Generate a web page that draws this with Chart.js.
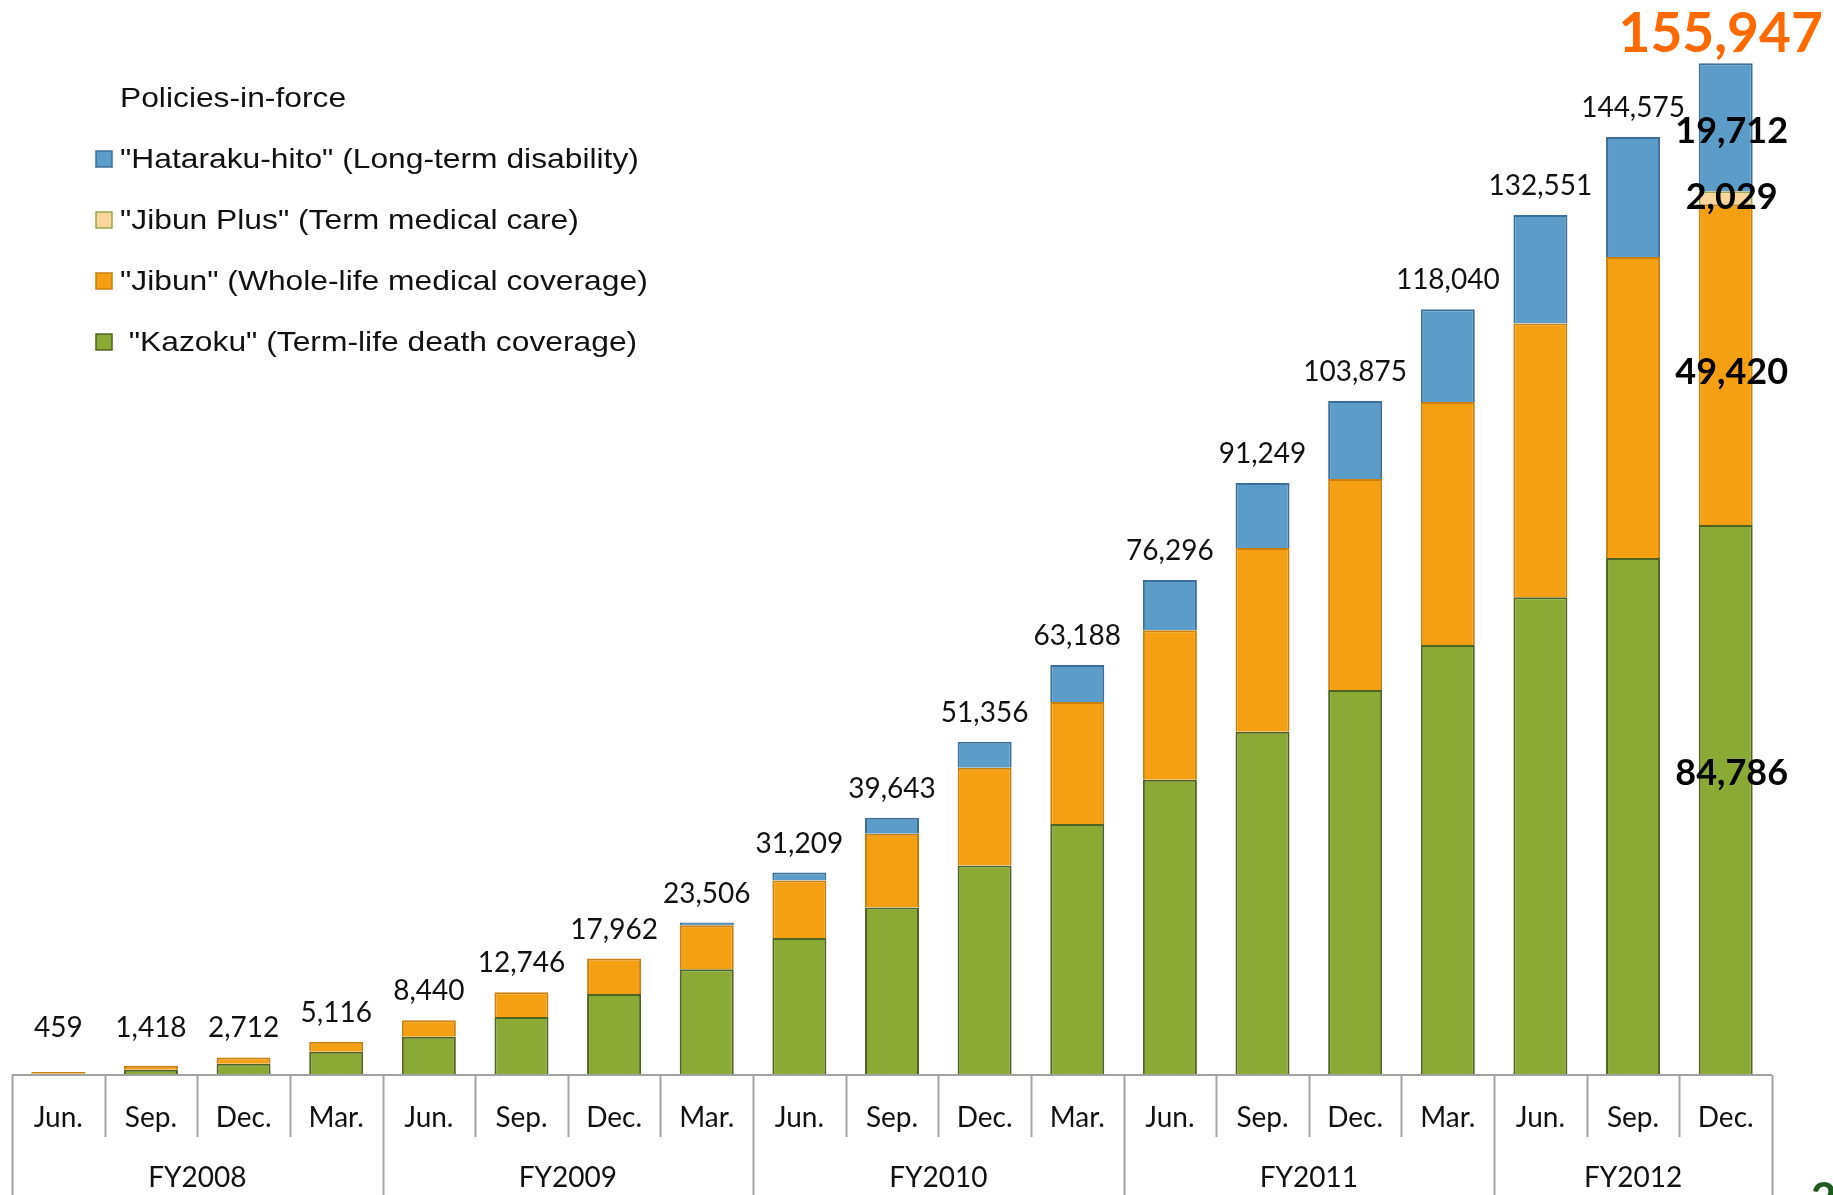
<!DOCTYPE html>
<html>
<head>
<meta charset="utf-8">
<script src="https://cdn.jsdelivr.net/npm/chart.js@4.4.0/dist/chart.umd.min.js"></script>
<style>
  html, body { margin: 0; padding: 0; background: #fff; }
  #wrap { width: 1833px; height: 1195px; }
</style>
</head>
<body>
<div id="wrap"><canvas id="policyChart" width="1833" height="1195"></canvas></div>
<script>
// categories
const months = ['Jun.', 'Sep.', 'Dec.', 'Mar.', 'Jun.', 'Sep.', 'Dec.', 'Mar.', 'Jun.', 'Sep.',
  'Dec.', 'Mar.', 'Jun.', 'Sep.', 'Dec.', 'Mar.', 'Jun.', 'Sep.', 'Dec.'];
const fiscalYears = ['FY2008', 'FY2009', 'FY2010', 'FY2011', 'FY2012'];
const monthsPerYear = [4, 4, 4, 4, 3];

// series (policies in force)
const kazoku = [180, 820, 1750, 3600, 5900, 8940, 12480, 16300, 21100, 25800,
  32300, 38700, 45500, 52900, 59330, 66300, 73630, 79700, 84786];
const jibun = [279, 598, 962, 1516, 2540, 3806, 5482, 6800, 8900, 11400,
  15050, 18780, 23070, 28330, 32530, 37440, 42210, 46370, 49420];
const jibunPlus = [null, null, null, null, null, null, null, null, null, null,
  null, null, null, null, null, null, null, null, 2029];
const hataraku = [null, null, null, null, null, null, null, 406, 1209, 2443,
  4006, 5708, 7726, 10019, 12015, 14300, 16711, 18505, 19712];
const totals = [459, 1418, 2712, 5116, 8440, 12746, 17962, 23506, 31209, 39643,
  51356, 63188, 76296, 91249, 103875, 118040, 132551, 144575, 155947];

const legendTitle = 'Policies-in-force';
const fmt = (v) => v.toLocaleString('en-US');

const datasets = [
  { label: ' "Kazoku" (Term-life death coverage)', data: kazoku,
    backgroundColor: '#8AAA35', borderColor: '#4F6322' },
  { label: '"Jibun" (Whole-life medical coverage)', data: jibun,
    backgroundColor: '#F59F12', borderColor: '#C9800F' },
  { label: '"Jibun Plus" (Term medical care)', data: jibunPlus,
    backgroundColor: '#FAD69C', borderColor: '#98A64E' },
  { label: '"Hataraku-hito" (Long-term disability)', data: hataraku,
    backgroundColor: '#5B9CC8', borderColor: '#3C6F99' },
].map((d) => ({ ...d, borderWidth: 2, barPercentage: 1, categoryPercentage: 0.583 }));

// label offsets for the last bar's segment values
const segDy = [-27, 8, 0, 4];

const overlay = {
  id: 'overlay',
  afterDraw(chart) {
    const { ctx, chartArea, scales: { x, y } } = chart;
    const base = chartArea.bottom;
    const H = chart.height;
    const half = (x.getPixelForValue(1) - x.getPixelForValue(0)) / 2;

    ctx.save();
    // axis line
    ctx.strokeStyle = '#a3a3a3';
    ctx.lineWidth = 2;
    ctx.beginPath();
    ctx.moveTo(chartArea.left, base);
    ctx.lineTo(chartArea.right, base);
    ctx.stroke();

    // separators
    const yearEdges = [0];
    monthsPerYear.forEach((n) => yearEdges.push(yearEdges[yearEdges.length - 1] + n));
    for (let i = 0; i <= months.length; i++) {
      const xp = i < months.length ? x.getPixelForValue(i) - half : x.getPixelForValue(i - 1) + half;
      ctx.beginPath();
      ctx.moveTo(Math.round(xp) + 0.5, base);
      ctx.lineTo(Math.round(xp) + 0.5, yearEdges.includes(i) ? H : base + 62);
      ctx.stroke();
    }

    // month and year labels
    ctx.fillStyle = '#111';
    ctx.textAlign = 'center';
    ctx.textBaseline = 'middle';
    ctx.font = '28px Lato';
    months.forEach((m, i) => ctx.fillText(m, x.getPixelForValue(i), base + 43));
    fiscalYears.forEach((fy, k) => {
      const a = x.getPixelForValue(yearEdges[k]) - half;
      const b = x.getPixelForValue(yearEdges[k + 1] - 1) + half;
      ctx.fillText(fy, (a + b) / 2, base + 103);
    });

    // totals above bars
    const last = totals.length - 1;
    totals.forEach((t, i) => {
      const cy = Math.min(y.getPixelForValue(t) - 29, base - 47);
      if (i === last) {
        ctx.fillStyle = '#FF6A00';
        ctx.font = 'bold 55px Lato';
        ctx.fillText(fmt(t), x.getPixelForValue(i) - 5, cy);
      } else {
        ctx.fillStyle = '#111';
        ctx.font = '28px Lato';
        ctx.fillText(fmt(t), x.getPixelForValue(i), cy);
      }
    });

    // segment values on the last bar
    ctx.fillStyle = '#000';
    ctx.font = 'bold 36px Lato';
    chart.data.datasets.forEach((ds, di) => {
      const el = chart.getDatasetMeta(di).data[last];
      const v = ds.data[last];
      if (!el || v == null) return;
      ctx.fillText(fmt(v), el.x + 6, (el.y + el.base) / 2 + segDy[di]);
    });

    // legend
    ctx.textAlign = 'left';
    ctx.font = '28px "Liberation Sans"';
    const drawStretched = (txt, tx, ty) => {
      ctx.save();
      ctx.translate(tx, ty);
      ctx.scale(1.135, 1);
      ctx.fillText(txt, 0, 0);
      ctx.restore();
    };
    ctx.fillStyle = '#111';
    drawStretched(legendTitle, 120, 99);
    const items = chart.data.datasets.slice().reverse();
    items.forEach((ds, k) => {
      const cy = 160 + k * 61;
      ctx.fillStyle = ds.backgroundColor;
      ctx.fillRect(96, cy - 9, 16, 16);
      ctx.strokeStyle = ds.borderColor;
      ctx.lineWidth = 1.5;
      ctx.strokeRect(96, cy - 9, 16, 16);
      ctx.fillStyle = '#111';
      drawStretched(ds.label, 120, cy);
    });

    // page number peeking at the corner
    ctx.fillStyle = '#1E5A1E';
    ctx.font = 'bold 44px Lato';
    ctx.textBaseline = 'top';
    ctx.fillText('2', 1811, 1178);
    ctx.restore();
  },
};

const chart = new Chart(document.getElementById('policyChart'), {
  type: 'bar',
  data: { labels: months, datasets },
  options: {
    responsive: false,
    animation: false,
    devicePixelRatio: 1,
    layout: { padding: { left: 12, right: 61, top: 37, bottom: 120 } },
    scales: {
      x: { stacked: true, display: false },
      y: { stacked: true, display: false, min: 0, max: 160000 },
    },
    plugins: { legend: { display: false }, tooltip: { enabled: false } },
  },
  plugins: [overlay],
});
</script>
</body>
</html>
